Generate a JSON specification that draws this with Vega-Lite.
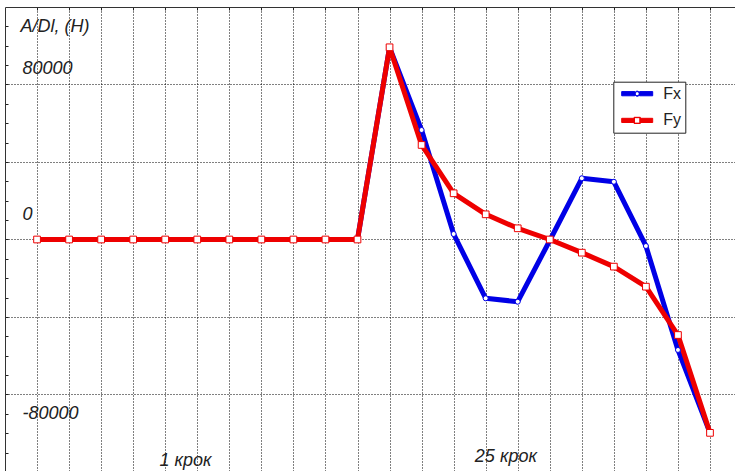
{
  "$schema": "https://vega.github.io/schema/vega-lite/v6.json",
  "width": 730,
  "height": 464,
  "autosize": "none",
  "padding": {"left": 5, "top": 7, "right": 0, "bottom": 0},
  "background": "white",
  "config": {"view": {"stroke": null}},
  "data": {"values": [
    {"step": 1, "series": "Fx", "value": 0},
    {"step": 2, "series": "Fx", "value": 0},
    {"step": 3, "series": "Fx", "value": 0},
    {"step": 4, "series": "Fx", "value": 0},
    {"step": 5, "series": "Fx", "value": 0},
    {"step": 6, "series": "Fx", "value": 0},
    {"step": 7, "series": "Fx", "value": 0},
    {"step": 8, "series": "Fx", "value": 0},
    {"step": 9, "series": "Fx", "value": 0},
    {"step": 10, "series": "Fx", "value": 0},
    {"step": 11, "series": "Fx", "value": 0},
    {"step": 12, "series": "Fx", "value": 99200},
    {"step": 13, "series": "Fx", "value": 56500},
    {"step": 14, "series": "Fx", "value": 2840},
    {"step": 15, "series": "Fx", "value": -30350},
    {"step": 16, "series": "Fx", "value": -32100},
    {"step": 17, "series": "Fx", "value": -500},
    {"step": 18, "series": "Fx", "value": 31600},
    {"step": 19, "series": "Fx", "value": 29800},
    {"step": 20, "series": "Fx", "value": -3350},
    {"step": 21, "series": "Fx", "value": -57000},
    {"step": 22, "series": "Fx", "value": -99800},
    {"step": 1, "series": "Fy", "value": 0},
    {"step": 2, "series": "Fy", "value": 0},
    {"step": 3, "series": "Fy", "value": 0},
    {"step": 4, "series": "Fy", "value": 0},
    {"step": 5, "series": "Fy", "value": 0},
    {"step": 6, "series": "Fy", "value": 0},
    {"step": 7, "series": "Fy", "value": 0},
    {"step": 8, "series": "Fy", "value": 0},
    {"step": 9, "series": "Fy", "value": 0},
    {"step": 10, "series": "Fy", "value": 0},
    {"step": 11, "series": "Fy", "value": 0},
    {"step": 12, "series": "Fy", "value": 99200},
    {"step": 13, "series": "Fy", "value": 48800},
    {"step": 14, "series": "Fy", "value": 23850},
    {"step": 15, "series": "Fy", "value": 13000},
    {"step": 16, "series": "Fy", "value": 5780},
    {"step": 17, "series": "Fy", "value": 0},
    {"step": 18, "series": "Fy", "value": -6800},
    {"step": 19, "series": "Fy", "value": -14000},
    {"step": 20, "series": "Fy", "value": -24350},
    {"step": 21, "series": "Fy", "value": -49300},
    {"step": 22, "series": "Fy", "value": -99800}
  ]},
  "encoding": {
    "x": {
      "field": "step", "type": "quantitative",
      "scale": {"domain": [0, 22.78], "nice": false, "zero": false},
      "axis": {
        "orient": "top", "values": [1,2,3,4,5,6,7,8,9,10,11,12,13,14,15,16,17,18,19,20,21,22],
        "labels": false, "title": null,
        "tickSize": -3, "tickColor": "#222", "tickWidth": 1,
        "domainColor": "#333", "domainWidth": 1,
        "grid": true, "gridColor": "#000", "gridDash": [1, 2], "gridWidth": 1, "gridOpacity": 1
      }
    },
    "y": {
      "field": "value", "type": "quantitative",
      "scale": {"domain": [-119484, 120000], "nice": false, "zero": false},
      "axis": {
        "orient": "left",
        "values": [-110000,-100000,-90000,-80000,-70000,-60000,-50000,-40000,-30000,-20000,-10000,0,10000,20000,30000,40000,50000,60000,70000,80000,90000,100000,110000],
        "domainColor": "#333", "domainWidth": 1,
        "tickSize": -3, "tickColor": "#222", "tickWidth": 1,
        "grid": true, "gridColor": "#000", "gridDash": [1, 2], "gridWidth": 1,
        "gridOpacity": {"condition": {"test": "datum.value % 40000 == 0", "value": 1}, "value": 0},
        "labelExpr": "datum.value == 80000 ? '80000' : datum.value == 0 ? '0' : datum.value == -80000 ? '-80000' : ''",
        "labelAlign": "left", "labelBaseline": "middle",
        "labelPadding": -14,
        "labelOffset": {"condition": [{"test": "datum.value == 80000", "value": -16}, {"test": "datum.value == 0", "value": -24.5}], "value": 19},
        "labelFont": "Liberation Sans", "labelFontStyle": "italic", "labelFontSize": 18, "labelColor": "#222",
        "labelOverlap": false, "labelFlush": false,
        "title": "A/Dl, (H)", "titleAngle": 0, "titleAlign": "left", "titleBaseline": "middle",
        "titleX": 15, "titleY": 19,
        "titleFont": "Liberation Sans", "titleFontStyle": "italic", "titleFontWeight": "normal", "titleFontSize": 18, "titleColor": "#222"
      }
    }
  },
  "layer": [
    {
      "mark": {"type": "line", "strokeWidth": 5, "strokeJoin": "round"},
      "encoding": {
        "color": {
          "field": "series", "type": "nominal",
          "scale": {"range": ["#0000e6", "#ee0000"]},
          "legend": {
            "orient": "none", "legendX": 608.3, "legendY": 74.7,
            "title": null,
            "padding": 4, "clipHeight": 16, "rowPadding": 10.7,
            "symbolType": "stroke", "symbolSize": 961, "symbolStrokeWidth": 1, "symbolOffset": 3.9,
            "labelOffset": 10,
            "labelFont": "Liberation Sans", "labelFontSize": 16, "labelColor": "#222",
            "labelExpr": "datum.label + '\u00a0\u00a0\u00a0\u00a0\u00a0'",
            "fillColor": "white", "strokeColor": "#222",
            "encode": {"symbols": {"update": {
              "shape": {"signal": "datum.value == 'Fx' ? 'M-1,-0.135L-0.15,-0.135L-0.15,0.135L-1,0.135ZM0.15,-0.135L1,-0.135L1,0.135L0.15,0.135ZM0.165,0A0.165,0.165,0,1,1,-0.165,0A0.165,0.165,0,1,1,0.165,0ZM0.129,0A0.129,0.129,0,1,0,-0.129,0A0.129,0.129,0,1,0,0.129,0Z' : 'M-1,-0.135L-0.19,-0.135L-0.19,0.135L-1,0.135ZM0.19,-0.135L1,-0.135L1,0.135L0.19,0.135ZM-0.2,-0.2L0.2,-0.2L0.2,0.2L-0.2,0.2ZM-0.177,-0.177L-0.177,0.177L0.177,0.177L0.177,-0.177Z'"},
              "fill": {"signal": "datum.value == 'Fx' ? '#0000e6' : '#ee0000'"},
              "stroke": {"signal": "datum.value == 'Fx' ? '#0000e6' : '#ee0000'"},
              "strokeWidth": {"value": 1},
              "opacity": {"value": 1}
            }}}
          }
        }
      }
    },
    {
      "transform": [{"filter": "datum.series == 'Fx'"}],
      "mark": {"type": "point", "shape": "circle", "filled": false, "fill": "white", "size": 25, "strokeWidth": 1, "opacity": 1},
      "encoding": {
        "color": {"field": "series", "type": "nominal"}
      }
    },
    {
      "transform": [{"filter": "datum.series == 'Fy'"}],
      "mark": {"type": "point", "shape": "square", "filled": false, "fill": "white", "size": 45, "strokeWidth": 1, "opacity": 1},
      "encoding": {
        "color": {"field": "series", "type": "nominal"}
      }
    },
    {
      "data": {"values": [
        {"x": 5.63, "y": -116900, "label": "1 крок"},
        {"x": 15.63, "y": -114700, "label": "25 крок"}
      ]},
      "mark": {"type": "text", "font": "Liberation Sans", "fontStyle": "italic", "fontSize": 18, "color": "#222", "align": "center", "baseline": "alphabetic"},
      "encoding": {
        "x": {"field": "x", "type": "quantitative"},
        "y": {"field": "y", "type": "quantitative"},
        "text": {"field": "label"}
      }
    }
  ]
}
